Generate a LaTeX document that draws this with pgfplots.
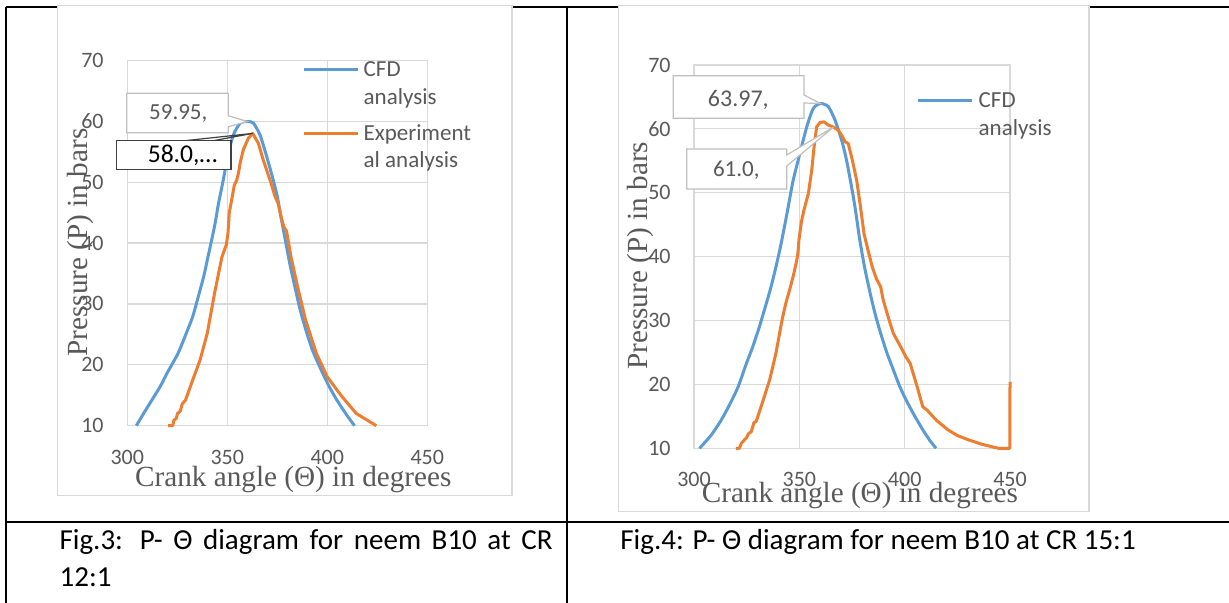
\documentclass[border=0pt]{standalone}
\usepackage{fontspec}
\setmainfont{Carlito}
\newfontfamily\tnr{Liberation Serif}
\usepackage{pgfplots}
\pgfplotsset{compat=1.18}
\definecolor{cfdblue}{HTML}{5B9BD5}
\definecolor{expor}{HTML}{ED7D31}
\definecolor{gridc}{HTML}{D9D9D9}
\definecolor{txtg}{HTML}{595959}
\definecolor{lblbox}{HTML}{BFBFBF}
\definecolor{darkbox}{HTML}{404040}
\pgfplotsset{
  myax/.style={
    scale only axis, anchor=south west, clip=false,
    xmin=300, xmax=450, ymin=10, ymax=70,
    xtick={300,350,400,450}, ytick={10,20,...,70},
    grid=major,
    grid style={draw=gridc, line width=0.6pt},
    axis line style={draw=gridc, line width=0.6pt},
    major tick length=0pt, tick style={draw=none},
    /pgf/number format/assume math mode=true,
    tick label style={font=\fontsize{11}{13}\selectfont, text=txtg, inner sep=0pt},
    yticklabel style={anchor=east},
    xticklabel style={anchor=center},
    legend image code/.code={\draw[##1, line width=1.5pt] (0pt,3.4pt) -- (26.65pt,3.4pt);},
  },
  cfd/.style={color=cfdblue, line width=1.5pt, line join=round, no marks, smooth, tension=0.4},
  exper/.style={color=expor, line width=1.5pt, line join=round, no marks},
}
\begin{document}
\begin{tikzpicture}
\useasboundingbox (0,0) rectangle (614.5pt,-301.5pt);
\begin{scope}[x=0.5pt,y=-0.5pt]
  \fill[white] (0,0) rectangle (1229,603);
  \draw[black, line width=1pt] (5.5,7.3) -- (1229,7.3);
  \draw[black, line width=1pt] (6,6.8) -- (6,603);
  \draw[black, line width=1pt] (566.5,6.8) -- (566.5,603);
  \draw[black, line width=1pt] (6,521.7) -- (1229,521.7);
  \filldraw[fill=white, draw=gridc, line width=0.6pt] (57.5,5.8) rectangle (512,495.3);
  \filldraw[fill=white, draw=gridc, line width=0.6pt] (618.5,5.8) rectangle (1089,511.8);
  \node[anchor=base west, inner sep=0pt, font=\fontsize{14.5}{17}\selectfont] at (59.2,549)
     {\makebox[246.5pt][s]{Fig.3: P- Θ diagram for neem B10 at CR}};
  \node[anchor=base west, inner sep=0pt, font=\fontsize{14.5}{17}\selectfont] at (59.2,586.7) {12:1};
  \node[anchor=base west, inner sep=0pt, font=\fontsize{14.5}{17}\selectfont] at (620,549)
     {Fig.4: P- Θ diagram for neem B10 at CR 15:1};
\end{scope}

\begin{axis}[myax, at={(63.65pt,-212.85pt)}, width=150pt, height=182.7pt,
  yticklabel style={xshift=-11.65pt},
  xticklabel style={yshift=-15.65pt},
  legend style={at={(axis description cs:0.5847,0.9989)}, anchor=north west,
    draw=none, fill=none, inner sep=0pt, outer sep=0pt,
    row sep=2.65pt, column sep=2.35pt,
    font=\fontsize{11.5}{13}\selectfont, text=txtg,
    nodes={inner sep=0pt, text height=8pt, text depth=3pt, anchor=base west}},
]
\addplot[cfd] coordinates {
(304.5,10) (310,13.0) (316.4,16.4) (320,18.7) (325.4,21.9) (330,25.6) (332.7,27.9)
(335,30.6) (338.2,34.5) (340,37.2) (343.6,42.7) (345.5,46.3) (348,50.4) (350.5,54.7)
(353,57.7) (356.4,59.7) (360,59.95) (363,59.7) (366.4,57.7) (369.7,54.2) (373,50.3)
(375.2,47.3) (376.8,44.3) (379,40.5) (381.3,36.5) (383.8,32.8) (386.3,29.2) (389.3,25.7)
(392.6,22.4) (397,19.1) (401,16.4) (404.8,14.2) (409.6,11.8) (413.6,10)
};
\addlegendentry{CFD}
\addlegendimage{empty legend}
\addlegendentry[text depth=7.35pt]{analysis}
\addplot[exper] coordinates {
(320.4,10) (322.7,10) (323.3,10.9) (324.5,11.2) (325.1,12.0) (326.5,12.4) (327.5,13.6)
(329.1,14.2) (332.7,17.5) (336.4,20.8) (340,25.2) (343.6,31.7) (347.3,37.7) (349.5,39.7)
(350.3,41.5) (351,45) (352.2,47.1) (353.5,49.5) (354.7,50.3) (355.6,51.5) (356.4,53.1)
(358,55.3) (360.5,57.2) (362.7,58.0) (365.5,56.4) (368,53.6) (371.4,50.3) (373.9,47.6)
(375.4,46.5) (377.3,43.8) (378.5,42.5) (379.6,42.0) (381.8,37.8) (385.5,32.3) (389.1,27.4)
(394.5,21.9) (400,18.0) (407.3,14.8) (414.5,12.0) (424.5,10)
};
\addlegendentry{Experiment}
\addlegendimage{empty legend}
\addlegendentry{al analysis}
\coordinate (pk1) at (axis cs:360,59.95);
\coordinate (pk2) at (axis cs:362.7,58.0);
\end{axis}

\begin{axis}[myax, at={(347pt,-224.15pt)}, width=158pt, height=191.65pt,
  yticklabel style={xshift=-11.5pt},
  xticklabel style={yshift=-15.35pt},
  legend style={at={(axis description cs:0.7047,0.9314)}, anchor=north west,
    draw=none, fill=none, inner sep=0pt, outer sep=0pt,
    row sep=3.2pt, column sep=2.85pt,
    font=\fontsize{11.5}{13}\selectfont, text=txtg,
    nodes={inner sep=0pt, text height=8pt, text depth=3pt, anchor=base west}},
]
\addplot[cfd] coordinates {
(302.6,10) (308,12.0) (312.9,14.4) (317,16.9) (320.9,19.6) (325,23.4) (327.9,25.9)
(331,29.0) (333.9,32.2) (336.5,35.2) (338.9,38.4) (341,41.5) (343,44.8) (345,48.3)
(347.1,52.0) (350.3,56.2) (353.5,60.3) (356.6,63.2) (360,63.97) (363.7,63.5) (366.9,61.4)
(370.1,58.2) (372.4,55.1) (374.8,50.9) (376.4,47.8) (378.7,42.6) (381,38.3) (383.6,34.3)
(386,31.0) (388.6,28.0) (391.5,25.0) (394.6,22.3) (397.5,19.8) (400.6,17.6) (404.5,15.2)
(408.6,12.9) (412,11.2) (414.9,10)
};
\addlegendentry{CFD}
\addlegendimage{empty legend}
\addlegendentry{analysis}
\addplot[exper] coordinates {
(319.9,10) (321.5,10) (322.5,10.8) (323.9,11.3) (324.8,11.6) (325.9,12.3) (327.2,12.6)
(328.4,14.0) (329.5,14.2) (332.9,17.6) (335.9,20.7) (338.9,24.9) (341.8,30.1) (343.5,32.6)
(345.8,35.3) (347.5,37.5) (348.8,39.5) (349.3,40.5) (349.8,42.6) (351,45.5) (352.2,47.3)
(354.3,49.9) (355.9,53.6) (357,57.2) (358.2,60.3) (359.8,61.0) (361.7,61.1) (363.7,60.6)
(366.1,60.3) (368.5,59.8) (370.1,59.0) (371.7,58.0) (373.2,57.7) (374.8,55.6) (377.2,52.0)
(378.8,48.3) (380.7,43.6) (382.6,41.0) (384.6,38.4) (386.6,36.5) (388.6,35.3) (389.6,33.5)
(390.7,32.2) (392.6,30.1) (394.6,28.0) (397.6,26.2) (400.6,24.3) (402.6,23.3) (405.6,20.0)
(408.6,16.5) (410.6,16.0) (415,14.4) (420.5,12.9) (425,12.0) (430.5,11.3) (437,10.6)
(444.5,10) (449.9,10) (450,20.4)
};
\coordinate (pk3) at (axis cs:360,63.97);
\coordinate (pk4) at (axis cs:366.3,60.3);
\end{axis}

\begin{scope}[x=0.5pt,y=-0.5pt]
  \node[rotate=90, inner sep=0pt, text=txtg, font=\tnr\fontsize{14.6}{16}\selectfont] at (80.9,242.5) {Pressure (P) in bars};
  \node[anchor=base, inner sep=0pt, text=txtg, font=\tnr\fontsize{14.6}{16}\selectfont] at (293.3,486) {Crank angle (Θ) in degrees};
  \node[rotate=90, inner sep=0pt, text=txtg, font=\tnr\fontsize{14.6}{16}\selectfont] at (640.4,255.8) {Pressure (P) in bars};
  \node[anchor=base, inner sep=0pt, text=txtg, font=\tnr\fontsize{14.6}{16}\selectfont] at (859.9,502.3) {Crank angle (Θ) in degrees};
  % data labels chart 1
  \filldraw[fill=white, draw=lblbox, line width=0.6pt, line join=miter]
    (126.7,93.3) -- (228.3,93.3) -- (228.3,115.7) -- (pk1) -- (228.3,126.7) -- (228.3,132.7) -- (126.7,132.7) -- cycle;
  \node[anchor=base, inner sep=0pt, text=txtg, font=\fontsize{11.5}{13}\selectfont] at (178.3,120) {59.95,};
  \draw[draw=darkbox, line width=0.6pt] (185,140.7) -- (pk2) -- (211.7,141);
  \filldraw[fill=white, draw=darkbox, line width=0.7pt] (116.7,140.7) rectangle (231,169.3);
  \node[anchor=base, inner sep=0pt, text=black, font=\fontsize{12.8}{14}\selectfont] at (182.5,162.7) {58.0,…};
  % data labels chart 2
  \filldraw[fill=white, draw=lblbox, line width=0.6pt, line join=miter]
    (673.3,75.7) -- (804,75.7) -- (804,95) -- (pk3) -- (804,103) -- (804,118.3) -- (673.3,118.3) -- cycle;
  \node[anchor=base, inner sep=0pt, text=txtg, font=\fontsize{12}{14}\selectfont] at (738.3,106.7) {63.97,};
  \filldraw[fill=white, draw=lblbox, line width=0.6pt, line join=miter]
    (686.7,149) -- (786.7,149) -- (786.7,155) -- (pk4) -- (786.7,166) -- (786.7,189) -- (686.7,189) -- cycle;
  \node[anchor=base, inner sep=0pt, text=txtg, font=\fontsize{11.5}{13}\selectfont] at (736.3,176.7) {61.0,};
\end{scope}
\end{tikzpicture}
\end{document}
